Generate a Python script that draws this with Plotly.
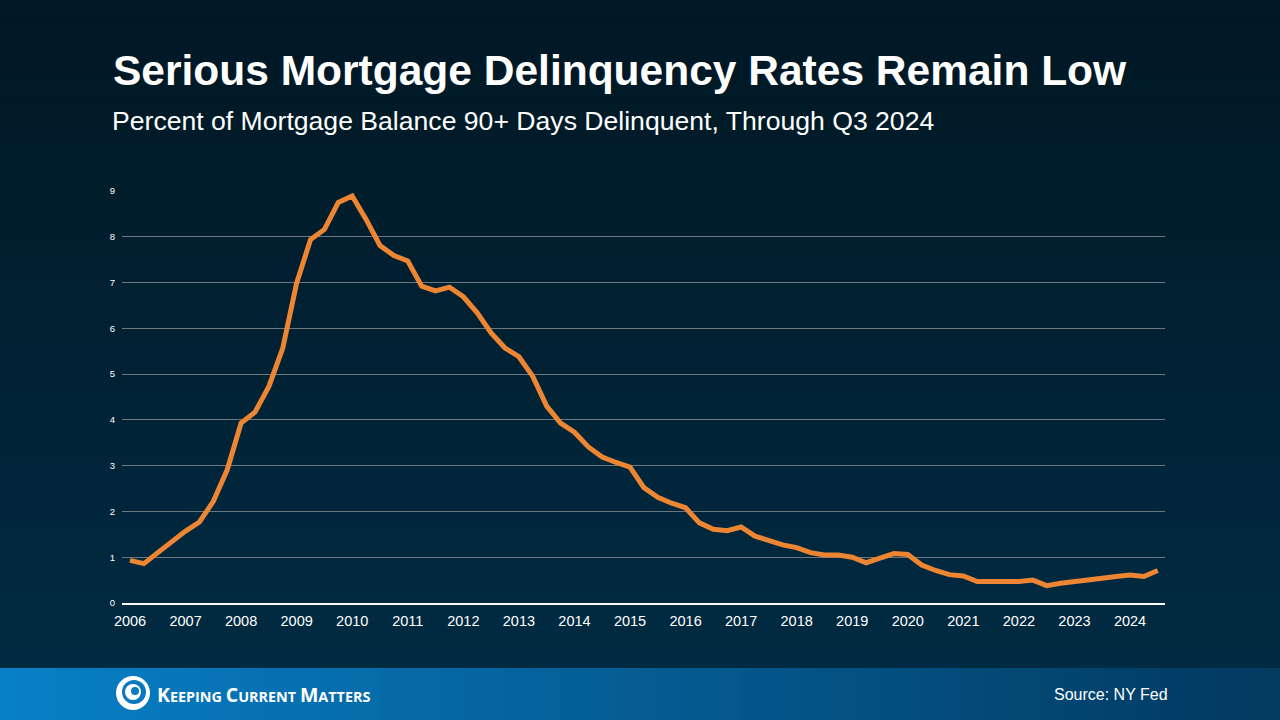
import plotly.graph_objects as go

# quarterly series, Q1 2006 .. Q3 2024 (% of balance 90+ days delinquent)
years = list(range(2006, 2025))
rate_by_year = {
    2006: [0.93, 0.86, 1.10, 1.35],
    2007: [1.57, 1.77, 2.22, 2.91],
    2008: [3.93, 4.17, 4.73, 5.57],
    2009: [6.99, 7.94, 8.16, 8.75],
    2010: [8.89, 8.38, 7.81, 7.59],
    2011: [7.47, 6.92, 6.82, 6.90],
    2012: [6.69, 6.34, 5.90, 5.57],
    2013: [5.38, 4.95, 4.30, 3.93],
    2014: [3.73, 3.41, 3.19, 3.07],
    2015: [2.97, 2.52, 2.31, 2.18],
    2016: [2.08, 1.75, 1.61, 1.58],
    2017: [1.66, 1.46, 1.36, 1.27],
    2018: [1.21, 1.10, 1.05, 1.05],
    2019: [1.00, 0.88, 0.98, 1.08],
    2020: [1.06, 0.83, 0.71, 0.62],
    2021: [0.59, 0.47, 0.47, 0.47],
    2022: [0.47, 0.50, 0.38, 0.43],
    2023: [0.46, 0.49, 0.54, 0.58],
    2024: [0.61, 0.58, 0.71],
}
y_ticks = list(range(0, 10))

x_vals, y_vals = [], []
for yr in years:
    for q, v in enumerate(rate_by_year[yr]):
        x_vals.append(yr + q / 4)
        y_vals.append(v)

# plot area in pixels: x 122..1165, y 191..603
L, R, T, B = 122, 1165, 191, 603
def px(x):
    return (x - L) / (R - L)
def py(y):
    return (B - y) / (B - T)

fig = go.Figure()
fig.add_trace(go.Scatter(x=x_vals, y=y_vals, mode="lines",
                         line=dict(color="#ED8532", width=5), hoverinfo="skip"))

shapes = []
# background: vertical gradient dark navy
n = 60
top_c, bot_c = (2, 24, 36), (1, 43, 67)
for i in range(n):
    t = i / (n - 1)
    c = tuple(int(top_c[k] + (bot_c[k] - top_c[k]) * t) for k in range(3))
    y0 = i * 668 / n
    y1 = (i + 1) * 668 / n + 1
    shapes.append(dict(type="rect", xref="paper", yref="paper", layer="below",
                       x0=px(-5), x1=px(1285), y0=py(y1), y1=py(y0),
                       fillcolor="rgb(%d,%d,%d)" % c, line_width=0))
# footer band: horizontal blue gradient
m = 64
left_c, right_c = (8, 128, 200), (2, 58, 96)
for i in range(m):
    t = i / (m - 1)
    c = tuple(int(left_c[k] + (right_c[k] - left_c[k]) * t) for k in range(3))
    shapes.append(dict(type="rect", xref="paper", yref="paper", layer="below",
                       x0=px(i * 20), x1=px((i + 1) * 20 + 1), y0=py(725), y1=py(668),
                       fillcolor="rgb(%d,%d,%d)" % c, line_width=0))

# logo swirl (approximation)
def pcirc(cx, cy, r, col):
    return dict(type="circle", xref="paper", yref="paper", layer="above",
                x0=px(cx - r), x1=px(cx + r), y0=py(cy + r), y1=py(cy - r),
                fillcolor=col, line_width=0)

shapes += [pcirc(133, 693, 17, "white"), pcirc(134, 692, 12, "#0a79bd"),
           pcirc(133, 692, 8, "white"), pcirc(135, 691, 4, "#0a79bd")]

fig.update_layout(
    width=1280, height=720,
    margin=dict(l=L, r=1280 - R, t=T, b=720 - B),
    paper_bgcolor="#021824", plot_bgcolor="rgba(0,0,0,0)",
    showlegend=False, shapes=shapes,
    font=dict(family="Liberation Sans, Arial, sans-serif", color="white"),
    xaxis=dict(range=[2005.856, 2024.63], tickvals=years, ticktext=[str(y) for y in years],
               showgrid=False, zeroline=False, showline=True, linecolor="white", linewidth=1.5,
               ticks="", ticklabelstandoff=4, tickfont=dict(size=14.5, color="white")),
    yaxis=dict(range=[0, 9], tickvals=y_ticks, showgrid=True, gridcolor="#6c7780",
               gridwidth=1, zeroline=False, showline=False, ticks="",
               ticklabelstandoff=6, tickfont=dict(size=9.5, color="white")),
)

fig.add_annotation(xref="paper", yref="paper", x=px(111), y=py(70),
                   text="<b>Serious Mortgage Delinquency Rates Remain Low</b>",
                   showarrow=False, xanchor="left", yanchor="middle",
                   font=dict(size=42.5, color="white"))
fig.add_annotation(xref="paper", yref="paper", x=px(110), y=py(121),
                   text="Percent of Mortgage Balance 90+ Days Delinquent, Through Q3 2024",
                   showarrow=False, xanchor="left", yanchor="middle",
                   font=dict(size=26.6, color="white"))
fig.add_annotation(xref="paper", yref="paper", x=px(1170), y=py(694),
                   text="Source: NY Fed", showarrow=False, xanchor="right", yanchor="middle",
                   font=dict(size=16, color="white"))
logo = ("<b><span style='font-size:19.5px'>K</span>EEPING "
        "<span style='font-size:19.5px'>C</span>URRENT "
        "<span style='font-size:19.5px'>M</span>ATTERS</b>")
fig.add_annotation(xref="paper", yref="paper", x=px(155), y=py(694),
                   text=logo, showarrow=False, xanchor="left", yanchor="middle",
                   font=dict(size=14.4, color="white", family="Open Sans, sans-serif"))

fig.write_html("out.html", config={"displayModeBar": False},
               post_script="document.body.style.margin='0';")
